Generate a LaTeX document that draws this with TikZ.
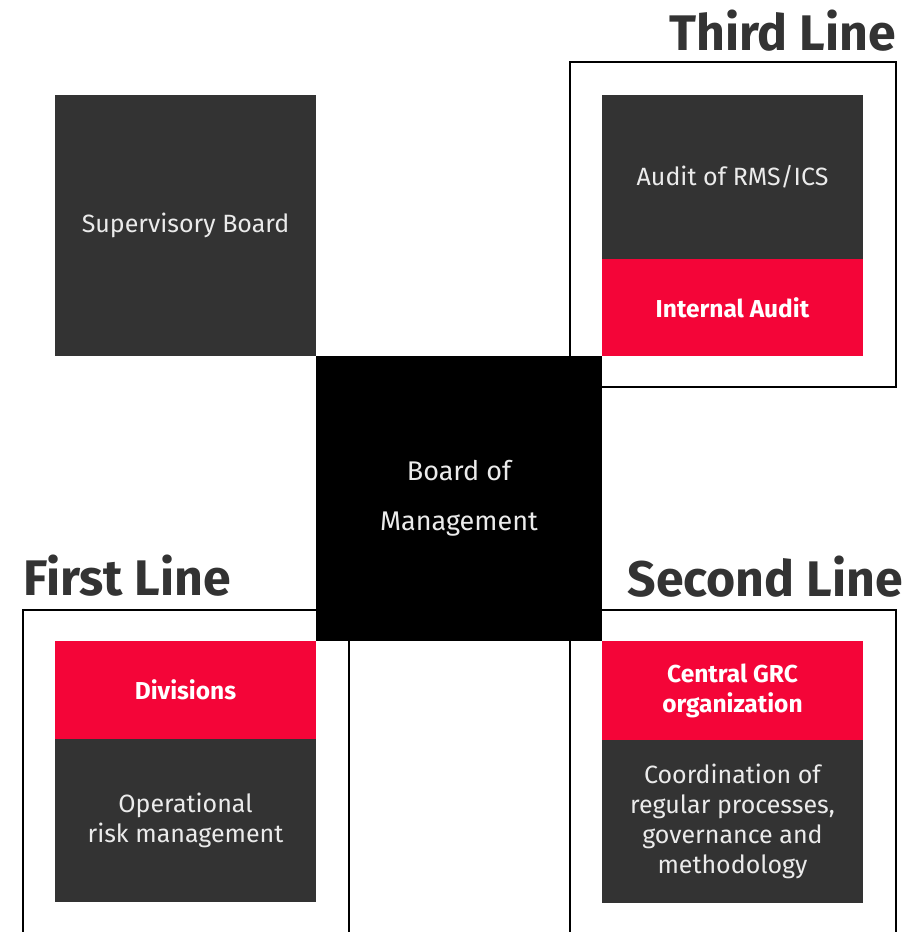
\documentclass[tikz,border=0pt]{standalone}
\usepackage{fontspec}
\setmainfont{Fira Sans}
\definecolor{darkgrey}{HTML}{333333}
\definecolor{grcred}{HTML}{F40538}
\definecolor{lighttext}{HTML}{EBEBEB}
\begin{document}
\begin{tikzpicture}[x=1pt,y=-1pt,
  box/.style={draw=none,inner sep=0pt,align=center,text=lighttext,font=\fontsize{25}{30}\selectfont},
  darkbox/.style={box,fill=darkgrey},
  redbox/.style={box,fill=grcred,text=white,font=\bfseries\fontsize{24.5}{30}\selectfont},
  lineframe/.style={draw=black,line width=2.2pt},
  linetitle/.style={font=\bfseries\fontsize{50}{50}\selectfont,text=darkgrey,inner sep=0pt}]
\useasboundingbox (0,0) rectangle (907,932);
% frames
\draw[lineframe] (570,62) rectangle (896,387);
\draw[lineframe] (23,932) -- (23,610) -- (349,610) -- (349,932);
\draw[lineframe] (570,932) -- (570,610) -- (896,610) -- (896,932);
% titles
\node[linetitle,anchor=base east] (third) at (896,50) {Third Line};
\node[linetitle,anchor=base west] (first) at (23,595) {First Line};
\node[linetitle,anchor=base east] (second) at (903,596) {Second Line};
% boxes
\node[darkbox,minimum width=261pt,minimum height=261pt] (sup) at (185.5,225.5) {Supervisory Board};
\node[darkbox,minimum width=261pt,minimum height=164pt] (rms) at (732.5,177) {Audit of RMS/ICS};
\node[redbox,minimum width=261pt,minimum height=97pt] (ia) at (732.5,307.5) {Internal Audit};
\node[box,fill=black,minimum width=286pt,minimum height=285pt,font=\fontsize{27}{50}\selectfont] (bom) at (459,498.5) {Board of\\Management};
\node[redbox,minimum width=261pt,minimum height=98pt] (div) at (185.5,690) {Divisions};
\node[darkbox,minimum width=261pt,minimum height=163pt] (orm) at (185.5,820.5) {Operational\\risk management};
\node[redbox,minimum width=261pt,minimum height=99pt] (grc) at (732.5,690.5) {Central GRC\\organization};
\node[darkbox,minimum width=261pt,minimum height=163pt] (coord) at (732.5,821.5) {Coordination of\\regular processes,\\governance and\\methodology};
\end{tikzpicture}
\end{document}
